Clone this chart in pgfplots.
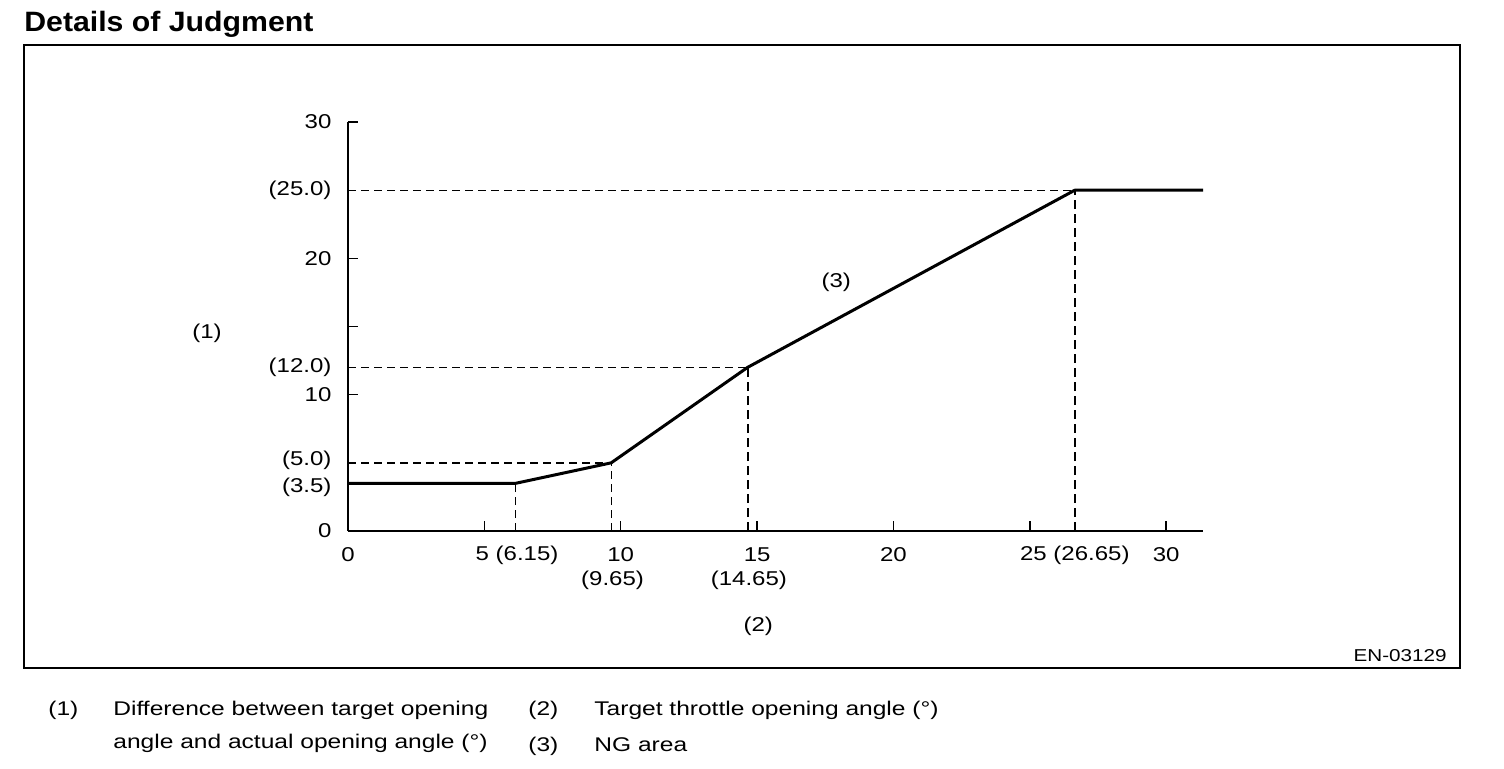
\documentclass[border=0pt]{standalone}
\usepackage{pgfplots}
\pgfplotsset{compat=1.18}
\usepackage{fontspec}
\setmainfont{Liberation Sans}[FakeStretch=1.2]
\newfontfamily\titlefont{Liberation Sans}[FakeStretch=1.08]
\newfontfamily\legfont{Liberation Sans}[FakeStretch=1.24]
\begin{document}
\begin{tikzpicture}[x=1pt,y=1pt]
\useasboundingbox (0,0) rectangle (752,384);
% title and frame
\node[anchor=base west,font=\titlefont\fontsize{14}{16}\selectfont\bfseries,inner sep=0pt] at (12,368) {Details of Judgment};
\draw[line width=0.75pt] (12,50) rectangle (730,361.5);
\node[anchor=base east,font=\fontsize{8.6}{10}\selectfont,inner sep=0pt] at (723.5,53.5) {EN-03129};
% legend below
\begin{scope}[every node/.style={anchor=base west,inner sep=0pt,font=\legfont\fontsize{9.9}{12}\selectfont}]
\node at (24,26.5) {(1)};
\node at (56.5,26.5) {Difference between target opening};
\node at (56.5,10) {angle and actual opening angle (°)};
\node at (264,26.5) {(2)};
\node at (297,26.5) {Target throttle opening angle (°)};
\node at (264,8.5) {(3)};
\node at (297,8.5) {NG area};
\end{scope}
\begin{axis}[
  at={(174pt,118.5pt)}, anchor=south west,
  scale only axis, width=427.5pt, height=204.5pt,
  xmin=0, xmax=31.35, ymin=0, ymax=30,
  axis lines*=left,
  x axis line style={line width=0.9pt},
  y axis line style={line width=0.6pt},
  xtick={5,10,15,20,25,30}, xticklabels={},
  ytick={10,15,20,30}, yticklabels={},
  tick align=inside, major tick length=5pt,
  every tick/.style={black,line width=0.7pt},
  clip=false,
  every node/.style={font=\fontsize{9.5}{11}\selectfont},
]
% solid judgment line
\addplot[black,line width=1.5pt,line join=round] coordinates {(0,3.5) (6.15,3.5) (9.65,5) (14.65,12) (26.65,25) (31.35,25)};
% dashed guide lines
\addplot[black,line width=0.5pt,dash pattern=on 4pt off 2.5pt] coordinates {(0,25) (26.65,25)};
\addplot[black,line width=0.5pt,dash pattern=on 4pt off 2.5pt] coordinates {(0,12) (14.65,12)};
\addplot[black,line width=0.8pt,dash pattern=on 4pt off 2.5pt] coordinates {(0,5) (9.65,5)};
\addplot[black,line width=0.5pt,dash pattern=on 4pt off 2.5pt] coordinates {(6.15,0) (6.15,3.5)};
\addplot[black,line width=0.5pt,dash pattern=on 4pt off 2.5pt] coordinates {(9.65,0) (9.65,5)};
\addplot[black,line width=1pt,dash pattern=on 4.5pt off 2.5pt] coordinates {(14.65,0) (14.65,12)};
\addplot[black,line width=1pt,dash pattern=on 4.5pt off 2.5pt] coordinates {(26.65,0) (26.65,25)};
% y tick labels
\node[anchor=east] at (axis cs:-0.35,30) {30};
\node[anchor=east] at (axis cs:-0.35,25) {(25.0)};
\node[anchor=east] at (axis cs:-0.35,20) {20};
\node[anchor=east] at (axis cs:-0.35,12) {(12.0)};
\node[anchor=east] at (axis cs:-0.35,10) {10};
\node[anchor=east] at (axis cs:-0.35,5.15) {(5.0)};
\node[anchor=east] at (axis cs:-0.35,3.2) {(3.5)};
\node[anchor=east] at (axis cs:-0.35,0) {0};
% x tick labels
\node at (axis cs:0,-1.76) {0};
\node at (axis cs:6.2,-1.76) {5 (6.15)};
\node at (axis cs:10.0,-1.76) {10};
\node at (axis cs:9.7,-3.62) {(9.65)};
\node at (axis cs:15.0,-1.76) {15};
\node at (axis cs:14.7,-3.62) {(14.65)};
\node at (axis cs:20,-1.76) {20};
\node at (axis cs:26.65,-1.76) {25 (26.65)};
\node at (axis cs:30,-1.76) {30};
% axis designators
\node at (axis cs:-5.17,14.5) {(1)};
\node at (axis cs:15.04,-7.0) {(2)};
\node at (axis cs:17.9,18.27) {(3)};
\end{axis}
\end{tikzpicture}
\end{document}
